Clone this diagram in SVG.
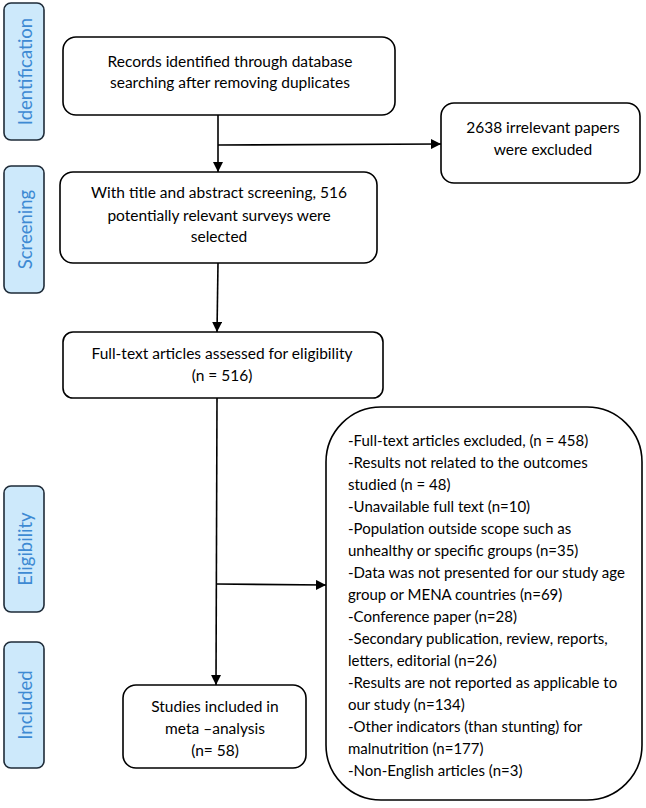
<svg xmlns="http://www.w3.org/2000/svg" width="646" height="808" viewBox="0 0 646 808">
<style>
  .tag rect{fill:#cde9fb;stroke:#1e2b38;stroke-width:1.6}
  .tag text{font-family:Lato,"Open Sans",sans-serif;font-size:18.5px;fill:#3d8ad3;text-anchor:middle}
  .box rect{fill:#fff;stroke:#000;stroke-width:1.6}
  .box text{font-family:Lato,"Liberation Sans",sans-serif;font-size:15.5px;fill:#000;text-anchor:middle}
  .big text{font-family:Lato,"Liberation Sans",sans-serif;font-size:15px;fill:#000}
  .big path{fill:#fff;stroke:#000;stroke-width:1.6}
  .conn line{stroke:#000;stroke-width:1.6}
</style>
<defs>
  <marker id="ah" viewBox="0 0 10 10" refX="10" refY="5" markerWidth="10" markerHeight="10" markerUnits="userSpaceOnUse" orient="auto">
    <path d="M0,0 L10,5 L0,10 Z" fill="#000"/>
  </marker>
</defs>

<g id="tag-identification" class="tag">
  <rect x="4" y="3" width="40" height="137" rx="7"/>
  <text transform="translate(32,71.5) rotate(-90)">Identification</text>
</g>
<g id="tag-screening" class="tag">
  <rect x="4" y="166" width="40" height="127" rx="7"/>
  <text transform="translate(32,229.5) rotate(-90)">Screening</text>
</g>
<g id="tag-eligibility" class="tag">
  <rect x="4" y="486" width="40" height="126" rx="7"/>
  <text transform="translate(32,549) rotate(-90)">Eligibility</text>
</g>
<g id="tag-included" class="tag">
  <rect x="4" y="642" width="40" height="126" rx="7"/>
  <text transform="translate(32,705) rotate(-90)">Included</text>
</g>

<g id="connectors" class="conn">
  <line x1="218" y1="115" x2="218" y2="172" marker-end="url(#ah)"/>
  <line x1="218" y1="145" x2="441" y2="144" marker-end="url(#ah)"/>
  <line x1="218" y1="263" x2="217" y2="332" marker-end="url(#ah)"/>
  <line x1="217" y1="398" x2="216" y2="685" marker-end="url(#ah)"/>
  <line x1="216" y1="584" x2="326" y2="585" marker-end="url(#ah)"/>
</g>

<g id="records" class="box">
  <rect x="63" y="37" width="332" height="78" rx="13"/>
  <text x="230" y="67">Records identified through database</text>
  <text x="230" y="88">searching after removing duplicates</text>
</g>
<g id="irrelevant" class="box">
  <rect x="441" y="103" width="199" height="80" rx="13"/>
  <text x="543" y="133">2638 irrelevant papers</text>
  <text x="543" y="155">were excluded</text>
</g>
<g id="screened" class="box">
  <rect x="60" y="172" width="317" height="91" rx="13"/>
  <text x="219" y="198">With title and abstract screening, 516</text>
  <text x="219" y="221">potentially relevant surveys were</text>
  <text x="219" y="242">selected</text>
</g>
<g id="fulltext" class="box">
  <rect x="63" y="332" width="320" height="66" rx="10"/>
  <text x="222" y="359">Full-text articles assessed for eligibility</text>
  <text x="222" y="381">(n = 516)</text>
</g>
<g id="included" class="box">
  <rect x="123" y="685" width="183" height="83" rx="13"/>
  <text x="215" y="712">Studies included in</text>
  <text x="215" y="734">meta –analysis</text>
  <text x="215" y="756">(n= 58)</text>
</g>
<g id="excluded" class="big">
  <path d="M381,407 H587 A55,55 0 0 1 642,462 V745 A55,55 0 0 1 587,800 H381 A55,55 0 0 1 326,745 V462 A55,55 0 0 1 381,407 Z"/>
  <text x="348" y="446">-Full-text articles excluded, (n = 458)</text>
  <text x="348" y="468">-Results not related to the outcomes</text>
  <text x="348" y="490">studied (n = 48)</text>
  <text x="348" y="512">-Unavailable full text (n=10)</text>
  <text x="348" y="534">-Population outside scope such as</text>
  <text x="348" y="556">unhealthy or specific groups (n=35)</text>
  <text x="348" y="578">-Data was not presented for our study age</text>
  <text x="348" y="600">group or MENA countries (n=69)</text>
  <text x="348" y="622">-Conference paper (n=28)</text>
  <text x="348" y="644">-Secondary publication, review, reports,</text>
  <text x="348" y="666">letters, editorial (n=26)</text>
  <text x="348" y="688">-Results are not reported as applicable to</text>
  <text x="348" y="710">our study (n=134)</text>
  <text x="348" y="732">-Other indicators (than stunting) for</text>
  <text x="348" y="754">malnutrition (n=177)</text>
  <text x="348" y="776">-Non-English articles (n=3)</text>
</g>
</svg>
